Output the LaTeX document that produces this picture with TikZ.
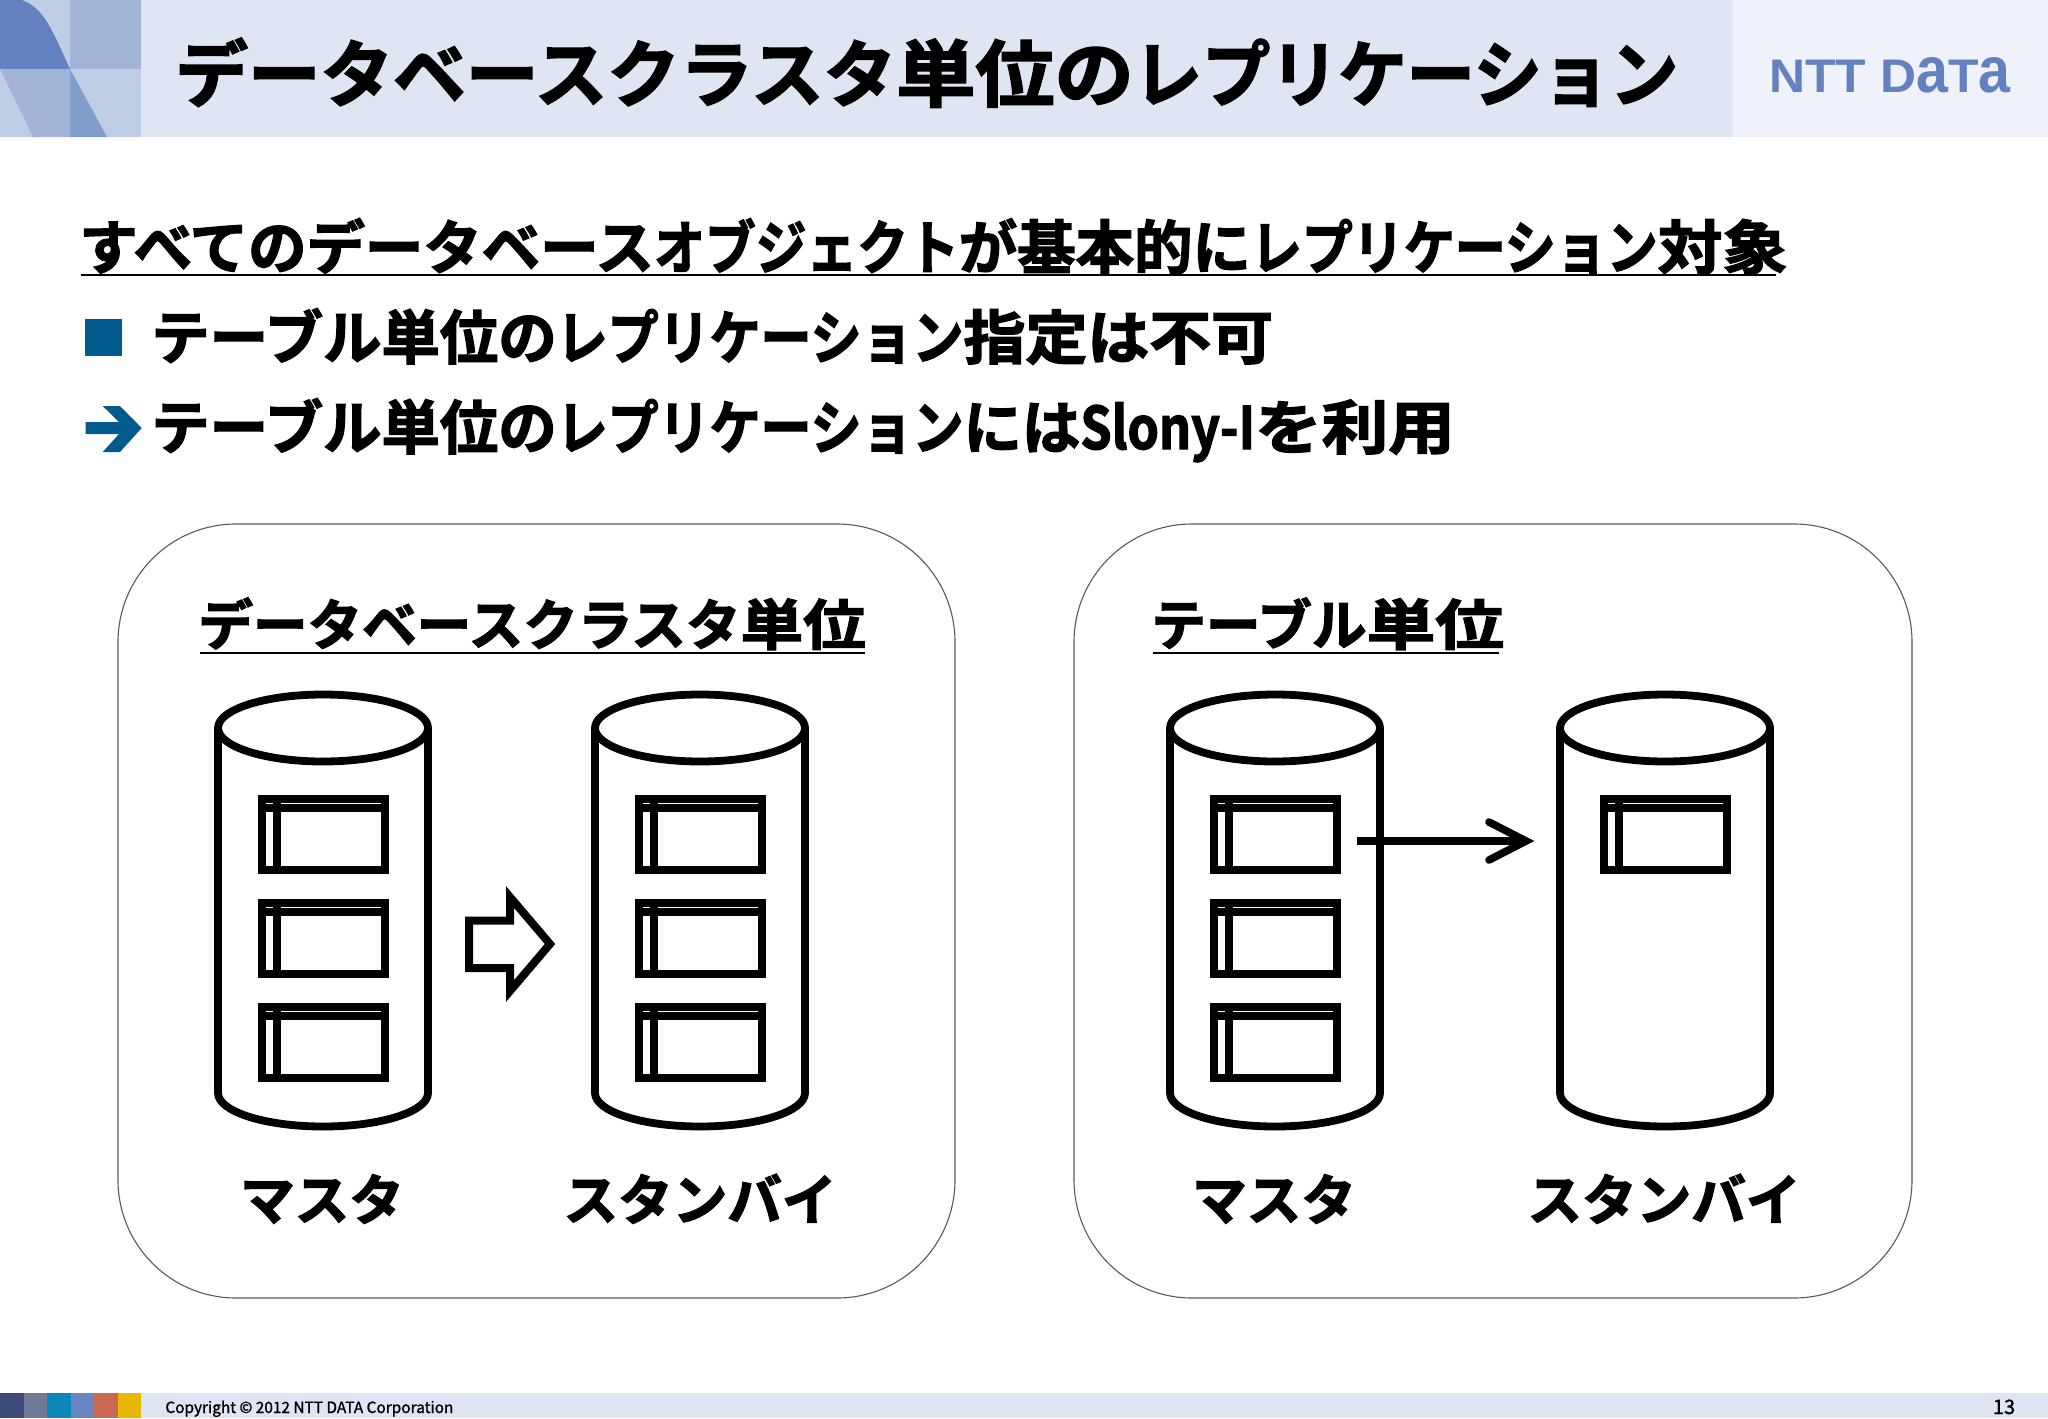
\documentclass[tikz,border=0pt]{standalone}
\usepackage{fontspec}
\usepackage{graphicx}
\setmainfont{Liberation Sans}
\newfontfamily\jpfont[BoldFont={Noto Sans CJK JP Bold},BoldFeatures={FakeBold=2.4}]{Noto Sans CJK JP}
\newfontfamily\piedfont[FakeBold=1.2]{Noto Sans CJK JP}
\definecolor{bandeau}{HTML}{E0E5F3}
\definecolor{bandeauclair}{HTML}{EFF2FA}
\definecolor{logobleu}{HTML}{6381BF}
\definecolor{puce}{HTML}{005B8C}
\definecolor{carreclair}{HTML}{BFCDE5}
\definecolor{carremoyen}{HTML}{A3B4D9}
\definecolor{carrefonce}{HTML}{819DCB}
\definecolor{coula}{HTML}{3C4A78}
\definecolor{coulb}{HTML}{6F7A96}
\definecolor{coulc}{HTML}{0A86B8}
\definecolor{could}{HTML}{6A86C2}
\definecolor{coule}{HTML}{CB6A50}
\definecolor{coulf}{HTML}{E8B800}
\newcommand{\etire}[2]{\scalebox{#1}[1]{#2}}
\newcommand{\cuve}[1]{%
  \draw[trait,fill=white,shift={(#1,0)}] (-105,728) -- (-105,1093)
    arc[start angle=180,end angle=0,x radius=105,y radius=33.5] -- (105,728);
  \draw[trait,fill=white,shift={(#1,0)}] (0,728) ellipse [x radius=105,y radius=33.5];}
\newcommand{\tableau}[2]{%
  \draw[cadre,shift={(#1,#2)}] (-61.5,0) rectangle (61.5,71)
    (-61.5,8.5) -- (61.5,8.5) (-46,0) -- (-46,71);}
\begin{document}
\begin{tikzpicture}[x=0.5pt,y=-0.5pt,
    trait/.style={line width=3.9pt,line join=round},
    cadre/.style={line width=4pt,line join=miter},
    panneau/.style={draw=black!65,line width=0.55pt,rounded corners=59pt},
    grand/.style={anchor=base west,inner sep=0pt,font=\jpfont\bfseries\fontsize{36.3}{37}\selectfont},
    ligne/.style={anchor=base west,inner sep=0pt,font=\jpfont\bfseries\fontsize{29.2}{30}\selectfont},
    soustitre/.style={anchor=base west,inner sep=0pt,font=\jpfont\bfseries\fontsize{27.3}{29}\selectfont},
    etiquette/.style={anchor=base,inner sep=0pt,font=\jpfont\bfseries\fontsize{27.3}{28}\selectfont},
    souligne/.style={line width=1.1pt},
    fleche/.style={line width=3.8pt,line cap=round}]
  \useasboundingbox (0,0) rectangle (2048,1418);
  % en-tête
  \fill[bandeau] (141,0) rectangle (1733,137);
  \fill[bandeauclair] (1733,0) rectangle (2048,137);
  \fill[carreclair] (0,0) rectangle (141,137);
  \fill[carremoyen] (70,0) rectangle (141,69);
  \fill[logobleu] (0,0) -- (22,0) .. controls (44,8) and (52,30) .. (70,69) -- (0,69) -- cycle;
  \fill[carremoyen] (0,69) -- (70,69) -- (70,137) -- (33,137) -- cycle;
  \fill[carrefonce] (70,69) -- (107,137) -- (70,137) -- cycle;
  \node[grand] (titre) at (175,101) {データベースクラスタ\etire{1.09}{単位の}\etire{0.94}{レプリケーション}};
  \node[inner sep=0pt,text=logobleu] (logo) at (1890,75.5) {\resizebox{120.5pt}{17.5pt}{\bfseries NTT D\scalebox{1.15}[1.38]{a}T\scalebox{1.15}[1.38]{a}}};
  % texte
  \node[ligne] (sujet) at (79,269) {すべてのデータベース\etire{0.87}{オブジェクト}が基本的に\etire{0.873}{レプリケーション}\etire{1.11}{対象}};
  \coordinate (A) at (81,275);
  \coordinate (B) at (1776,275);
  \coordinate (C) at (200,653);
  \coordinate (D) at (865,653);
  \coordinate (E) at (1153,653);
  \coordinate (F) at (1499,653);
  \draw[souligne] (A) -- (B) (C) -- (D) (E) -- (F);
  \fill[puce] (85,319) rectangle (122,356);
  \node[ligne] (point) at (151,359) {テーブル単位の\etire{0.873}{レプリケーション}\etire{1.06}{指定は不可}};
  \fill[puce] (120,406) -- (141.7,428) -- (120,452) -- (102.7,452) -- (119,434) -- (85.7,434)
    -- (85.7,422) -- (119,422) -- (102.7,406) -- cycle;
  \node[ligne] (renvoi) at (151,449) {テーブル単位の\etire{0.873}{レプリケーション}には\etire{0.86}{Slony-I}\etire{1.14}{を利用}};
  % panneaux
  \draw[panneau] (118,524) rectangle (955,1298);
  \draw[panneau] (1074,524) rectangle (1912,1298);
  \node[soustitre] (unite) at (198,645) {データベースクラスタ\etire{1.147}{単位}};
  \node[soustitre] (tablette) at (1151,645) {テーブル\etire{1.26}{単位}};
  % cylindres
  \cuve{323} \cuve{700} \cuve{1275} \cuve{1665}
  \tableau{323}{799} \tableau{323}{903} \tableau{323}{1007}
  \tableau{700}{799} \tableau{700}{903} \tableau{700}{1007}
  \tableau{1275}{799} \tableau{1275}{903} \tableau{1275}{1007}
  \tableau{1665}{799}
  % fleches
  \coordinate (P) at (469,920.5);
  \coordinate (Q) at (510,920.5);
  \coordinate (R) at (510,897);
  \coordinate (S) at (550,944);
  \coordinate (T) at (510,991);
  \coordinate (U) at (510,968);
  \coordinate (V) at (469,968);
  \draw[cadre] (P) -- (Q) -- (R) -- (S) -- (T) -- (U) -- (V) -- cycle;
  \coordinate (G) at (1357,841);
  \coordinate (H) at (1526,841);
  \coordinate (I) at (1489,822);
  \coordinate (J) at (1489,860);
  \draw[line width=3.8pt] (G) -- (H);
  \draw[fleche] (I) -- (H) -- (J);
  % noms
  \node[etiquette] (maitre) at (322,1220) {マスタ};
  \node[etiquette] (attente) at (700,1220) {スタンバイ};
  \node[etiquette] (maitrebis) at (1274,1220) {マスタ};
  \node[etiquette] (attentebis) at (1664,1220) {スタンバイ};
  % pied de page
  \fill[bandeau] (141,1393) rectangle (2048,1418);
  \fill[coula] (0,1393) rectangle (23.5,1418);
  \fill[coulb] (23.5,1393) rectangle (47,1418);
  \fill[coulc] (47,1393) rectangle (71,1418);
  \fill[could] (71,1393) rectangle (94,1418);
  \fill[coule] (94,1393) rectangle (118,1418);
  \fill[coulf] (118,1393) rectangle (141,1418);
  \node[anchor=base west,inner sep=0pt] (copyright) at (165,1413) {\resizebox{144pt}{6.2pt}{\piedfont Copyright © 2012 NTT DATA Corporation}};
  \node[anchor=base,inner sep=0pt,font=\piedfont\fontsize{10}{10}\selectfont] (page) at (2004,1414) {13};
\end{tikzpicture}
\end{document}
